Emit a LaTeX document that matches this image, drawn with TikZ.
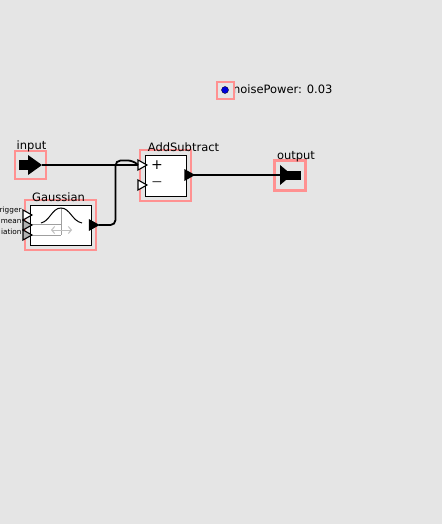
\documentclass[tikz,border=0pt]{standalone}
\usepackage{fontspec}
\setmainfont{DejaVu Sans}
\usepackage{tikz}
\usetikzlibrary{positioning,calc,fit,shapes.geometric,arrows.meta}
\definecolor{canvasgray}{RGB}{229,229,229}
\definecolor{halopink}{RGB}{255,145,145}
\definecolor{paramblue}{RGB}{0,0,220}
\pgfdeclarelayer{background}
\pgfsetlayers{background,main}
\tikzset{
  modelpic/.style={
    x=1pt,y=-1pt
    ,inner sep=0pt
    ,outer sep=0pt
    ,font=\fontsize{11.5}{13}\selectfont
  }
  ,actor/.style={draw=black,fill=white,line width=.8pt,anchor=north west}
  ,halo/.style={draw=halopink,line width=2.2pt,inner sep=5pt}
  ,title/.style={anchor=south,text height=8pt}
  ,portin/.style={
    draw=black,fill=white,line width=1.1pt,
    isosceles triangle,isosceles triangle stretches,
    minimum height=9pt,minimum width=10pt,inner sep=0pt,
    anchor=apex
  }
  ,portgray/.style={portin,fill=gray!60}
  ,portout/.style={portin,fill=black}
  ,portname/.style={font=\fontsize{7.3}{8}\selectfont,anchor=east}
  ,wire/.style={draw=black,line width=1.8pt,rounded corners=5pt}
  ,curve/.style={draw=black,line width=1pt}
  ,glyph/.style={draw=gray!75,line width=1pt}
  ,icon/.style={fill=black,draw=none}
}
\begin{document}
\begin{tikzpicture}[modelpic]
    \useasboundingbox (0,0) rectangle (442,524);
    \fill[canvasgray] (0,0) rectangle (442,524);
    % parameter
    \node[circle,fill=paramblue,draw=black,line width=.3pt,minimum size=7pt] (noisePower) at (225,90) {};
    \node[anchor=west] (noisePowerlbl) at (233,89) {noisePower: 0.03};
    \node[draw=halopink,line width=2.2pt,minimum size=17pt] (noisePowerhalo) at (225.5,90.5) {};
    % input
    \node[halo,minimum width=31pt,minimum height=28pt] (inputhalo) at (30.5,165) {};
    \fill[icon] (19,160) rectangle (29,170);
    \fill[icon] (28,155) -- (42,165) -- (28,175) -- cycle;
    \coordinate (inputout) at (42,165);
    \node[title] (inputnm) at (31.5,152) {input};
    % gaussian
    \node[actor,minimum width=61pt,minimum height=40pt] (gauss) at (30,205) {};
    \node[halo,fit=(gauss)] (gausshalo) {};
    \node[title] (gaussnm) at (58.5,202) {Gaussian};
    \draw[glyph] (30,224.5) -- (61,224.5) (30,235) -- (61,235);
    \draw[glyph] (61,208) -- (61,235);
    \draw[glyph,draw=gray!50,{Straight Barb[length=3pt,width=7pt]}-{Straight Barb[length=3pt,width=7pt]}] (51,230) -- (72,230);
    \draw[curve] (41,223) .. controls (50,221) and (52,208) .. (61,208) .. controls (70,208) and (72,221) .. (82,223);
    \node[portin] (gausstrigger) at (32,215) {};
    \node[portgray] (gaussmean) at (32,225) {};
    \node[portgray] (gaussdev) at (32,235) {};
    \node[portname] (triggerlbl) at (21.5,210) {rigger};
    \node[portname] (meanlbl) at (21.5,222) {mean};
    \node[portname] (devlbl) at (21.5,232) {iation};
    \node[portout] (gaussout) at (98.5,225) {};
    % adder
    \node[actor,minimum width=41pt,minimum height=41pt] (add) at (145,155) {};
    \node[halo,fit=(add)] (addhalo) {};
    \node[title] (addnm) at (183.5,152) {AddSubtract};
    \node[font=\fontsize{14}{14}\selectfont] (plus) at (157,165) {+};
    \node[font=\fontsize{14}{14}\selectfont,text=gray!60!black] (minus) at (157,184) {\textminus};
    \node[portin] (addplus) at (147,165) {};
    \node[portin] (addminus) at (147,185) {};
    \node[portout] (addout) at (194,175) {};
    % output
    \node[halo,minimum width=31pt,minimum height=30pt] (outhalo) at (290,175.5) {};
    \fill[icon] (280,165) -- (292,175) -- (280,185) -- cycle;
    \fill[icon] (286,171) rectangle (301,180);
    \coordinate (outputin) at (280,175);
    \node[title] (outnm) at (296,162) {output};
    % wires
    \draw[wire] (inputout) -- (addplus.west);
    \draw[wire] (gaussout.east) -- (115.5,225) -- (115.5,160.5) -- (133,160.5) -- (addplus.west);
    \draw[wire] (addout.east) -- (outputin);
\end{tikzpicture}
\end{document}
